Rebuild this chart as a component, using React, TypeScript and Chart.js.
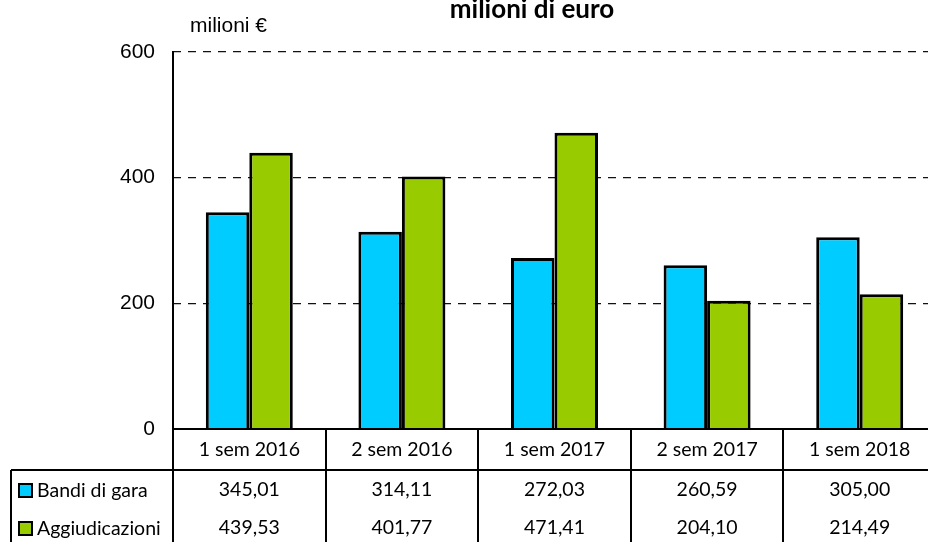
import React, { useEffect, useRef } from "react";
import { Chart, registerables } from "chart.js";

Chart.register(...registerables);

const categories = ["1 sem 2016", "2 sem 2016", "1 sem 2017", "2 sem 2017", "1 sem 2018"];
const bandiDiGara = [345.01, 314.11, 272.03, 260.59, 305.0];
const aggiudicazioni = [439.53, 401.77, 471.41, 204.1, 214.49];
const seriesNames = ["Bandi di gara", "Aggiudicazioni"];
const seriesColors = ["#00CCFF", "#99CC00"];
const yMin = 0;
const yMax = 600;
const yStep = 200;
const titleText = "milioni di euro";
const unitLabel = "milioni €";

const W = 940;
const H = 552;
const TABLE_FONT = "Lato, 'Open Sans', sans-serif";
const AXIS_FONT = "'Liberation Sans', Arial, sans-serif";

const fmt = (v: number) => v.toFixed(2).replace(".", ",");

const tablePlugin = {
  id: "dataTable",
  afterDraw(chart: any) {
    const ctx = chart.ctx as CanvasRenderingContext2D;
    const area = chart.chartArea;
    const ys = chart.scales.y;
    const n = categories.length;
    const cw = (area.right - area.left) / n;
    const y0 = Math.round(ys.getPixelForValue(0));
    const hdrBottom = y0 + 41;
    const rowYs = [hdrBottom + 20, hdrBottom + 58];
    const tableBottom = hdrBottom + 80;
    const legendLeft = 11;

    ctx.save();
    ctx.strokeStyle = "#000";
    ctx.lineWidth = 2;
    ctx.beginPath();
    ctx.moveTo(area.left, area.top - 1);
    ctx.lineTo(area.left, tableBottom);
    ctx.moveTo(area.left, y0);
    ctx.lineTo(W, y0);
    ctx.moveTo(legendLeft, hdrBottom);
    ctx.lineTo(W, hdrBottom);
    ctx.moveTo(legendLeft, hdrBottom);
    ctx.lineTo(legendLeft, tableBottom);
    for (let i = 1; i <= n; i++) {
      const x = Math.round(area.left + i * cw);
      ctx.moveTo(x, y0);
      ctx.lineTo(x, tableBottom);
    }
    ctx.stroke();

    ctx.fillStyle = "#000";
    ctx.font = `19.5px ${TABLE_FONT}`;
    ctx.textAlign = "center";
    ctx.textBaseline = "middle";
    const series = [bandiDiGara, aggiudicazioni];
    for (let i = 0; i < n; i++) {
      const cx = area.left + (i + 0.5) * cw;
      ctx.fillText(categories[i], cx, (y0 + hdrBottom) / 2);
      series.forEach((s, k) => ctx.fillText(fmt(s[i]), cx, rowYs[k]));
    }
    ctx.textAlign = "left";
    series.forEach((_, k) => {
      const cy = rowYs[k];
      ctx.fillStyle = seriesColors[k];
      ctx.fillRect(19, cy - 6, 13, 13);
      ctx.strokeRect(19, cy - 6, 13, 13);
      ctx.fillStyle = "#000";
      ctx.fillText(seriesNames[k], 37, cy + 1);
    });

    ctx.font = `bold 26px ${TABLE_FONT}`;
    ctx.textAlign = "center";
    ctx.textBaseline = "alphabetic";
    ctx.fillText(titleText, 532, 18);
    ctx.font = `21px ${AXIS_FONT}`;
    ctx.textAlign = "left";
    ctx.fillText(unitLabel, 190, 32);
    ctx.restore();
  },
};

export default function App() {
  const ref = useRef<HTMLCanvasElement | null>(null);
  useEffect(() => {
    if (!ref.current) return;
    const ds = (k: number, data: number[]) => ({
      label: seriesNames[k],
      data,
      backgroundColor: seriesColors[k],
      borderColor: "#000",
      borderWidth: 3,
      categoryPercentage: 0.57,
      barPercentage: 1,
    });
    const chart = new Chart(ref.current, {
      type: "bar",
      data: {
        labels: categories,
        datasets: [ds(0, bandiDiGara), ds(1, aggiudicazioni)],
      },
      options: {
        responsive: false,
        animation: false,
        layout: { padding: { left: 0, top: 52, right: 4, bottom: 123 } },
        plugins: { legend: { display: false }, title: { display: false }, tooltip: { enabled: false } },
        scales: {
          x: { display: false },
          y: {
            min: yMin,
            max: yMax,
            ticks: {
              stepSize: yStep,
              padding: 18,
              color: "#000",
              font: { family: AXIS_FONT, size: 21 },
            },
            grid: {
              drawTicks: false,
              lineWidth: 1.3,
              color: (c: any) => (c.tick && c.tick.value === 0 ? "rgba(0,0,0,0)" : "#111"),
            },
            border: { display: false, dash: [8, 7] },
            afterFit: (scale: any) => {
              scale.width = 173;
            },
          },
        },
      },
      plugins: [tablePlugin],
    });
    return () => chart.destroy();
  }, []);
  return (
    <div style={{ position: "fixed", left: 0, top: 0, width: 928, height: 542, overflow: "hidden", background: "#fff" }}>
      <canvas ref={ref} width={W} height={H} style={{ width: W, height: H, display: "block" }} />
    </div>
  );
}
